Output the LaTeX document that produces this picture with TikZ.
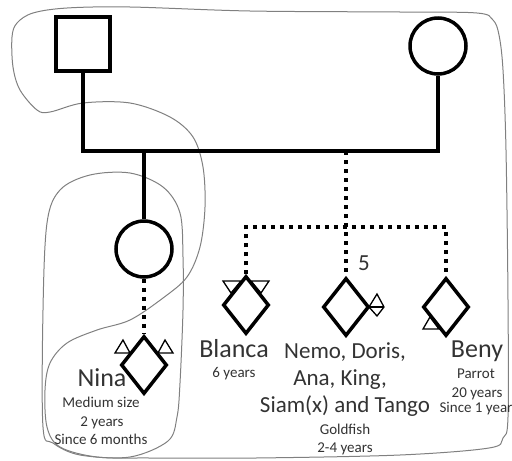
\documentclass[tikz,border=0pt]{standalone}
\usepackage{fontspec}
\setmainfont{Carlito}
\usetikzlibrary{shapes.geometric}
\tikzset{
  thickline/.style={line width=3.5pt, black},
  dotline/.style={line width=4pt, black, dash pattern=on 4pt off 5pt},
  earline/.style={line width=1.3pt, black, line join=miter},
  outline/.style={draw=black!50, line width=1pt},
  malebox/.style={draw, line width=3.5pt, rectangle, minimum size=54pt, inner sep=0pt},
  femalebox/.style={draw, line width=3.5pt, circle, minimum size=56pt, inner sep=0pt},
  petbox/.style={draw, line width=3.5pt, diamond, minimum width=46pt, minimum height=58pt, inner sep=0pt},
  bigname/.style={font=\fontsize{26}{31}\selectfont, text=black!80, inner sep=0pt, anchor=base},
  midname/.style={font=\fontsize{23}{27}\selectfont, text=black!80, inner sep=0pt, anchor=base},
  smalltext/.style={font=\fontsize{15}{18}\selectfont, text=black!80, inner sep=0pt, anchor=base}
}
\begin{document}
\begin{tikzpicture}[x=1pt, y=-1pt]
\useasboundingbox (0,0) rectangle (512,461);

% hand-drawn outlines
\draw[outline] plot[smooth cycle, tension=0.55] coordinates {
  (33,13) (67,8) (130,7) (250,11) (400,12) (477,13) (493,20) (499,35) (503,70)
  (506,150) (508,300) (508,417) (503,438) (489,448) (400,455) (256,458)
  (150,458) (97,457) (60,447) (47,427) (45,390) (50,363) (67,343) (97,330)
  (130,320) (163,298) (187,277) (200,247) (205,207) (203,167) (193,137)
  (170,117) (130,103) (83,103) (50,112) (37,110) (20,90) (13,67) (12,37) (17,23)};
\draw[outline] plot[smooth cycle, tension=0.55] coordinates {
  (130,173) (163,187) (180,213) (183,257) (183,310) (180,383) (177,417)
  (168,441) (130,457) (80,455) (53,443) (43,427) (43,310) (47,223) (60,190) (90,175)};

% people and pets
\node[malebox] (father) at (83,44) {};
\node[femalebox] (mother) at (438,46) {};
\node[femalebox] (daughter) at (144,249) {};
\node[petbox] (nina) at (144,365) {};
\node[petbox] (blanca) at (246,305) {};
\node[petbox] (fish) at (346,307) {};
\node[petbox] (beny) at (446,307) {};

\coordinate (bar) at (0,151);
\coordinate (nb) at (144,151);
\coordinate (sb) at (346,151);
\coordinate (sl) at (346,227);

% connectors
\draw[thickline] (father.south) |- (mother.south |- bar) -- (mother.south);
\draw[thickline] (nb) -- (daughter.north);
\draw[dotline] (daughter.south) -- (nina.north);
\draw[dotline] (sb) -- (fish.north);
\draw[dotline] (blanca.north) |- (beny.north |- sl) -- (beny.north);

% ears, tail, beak
\begin{scope}[shift={(nina.center)}]
  \draw[earline] (-29,-12) -- (-14,-12) -- (-21,-25) -- cycle;
  \draw[earline] (29,-12) -- (14,-12) -- (21,-25) -- cycle;
\end{scope}
\begin{scope}[shift={(blanca.center)}]
  \draw[earline] (-23,-24) -- (-5,-24) -- (-15,-12) -- cycle;
  \draw[earline] (23,-24) -- (5,-24) -- (15,-12) -- cycle;
\end{scope}
\begin{scope}[shift={(fish.center)}]
  \draw[earline] (23,0) -- (31,-13) -- (38,0) -- (31,9) -- cycle;
  \draw[earline] (23,0) -- (38,0);
\end{scope}
\begin{scope}[shift={(beny.center)}]
  \draw[earline] (-16,10) -- (-23,22) -- (-7,22) -- cycle;
\end{scope}

% labels
\node[midname] (five) at (364,270) {5};

\node[bigname] (ninaname) at (102,386) {Nina};
\node[smalltext] (ninaa) at (101,407) {Medium size};
\node[smalltext] (ninab) at (102,426) {2 years};
\node[smalltext] (ninac) at (101,444) {Since 6 months};

\node[bigname] (blancaname) at (234,357) {Blanca};
\node[smalltext] (blancaa) at (234,377) {6 years};

\node[midname] (fisha) at (345,358) {Nemo, Doris,};
\node[midname] (fishb) at (340,385) {Ana, King,};
\node[midname] (fishc) at (345,412) {Siam(x) and Tango};
\node[smalltext] (fishd) at (345,434) {Goldfish};
\node[smalltext] (fishe) at (345,452) {2-4 years};

\node[bigname] (benyname) at (477,357) {Beny};
\node[smalltext] (benya) at (476,378) {Parrot};
\node[smalltext] (benyb) at (477,397) {20 years};
\node[smalltext] (benyc) at (476,412) {Since 1 year};
\end{tikzpicture}
\end{document}
